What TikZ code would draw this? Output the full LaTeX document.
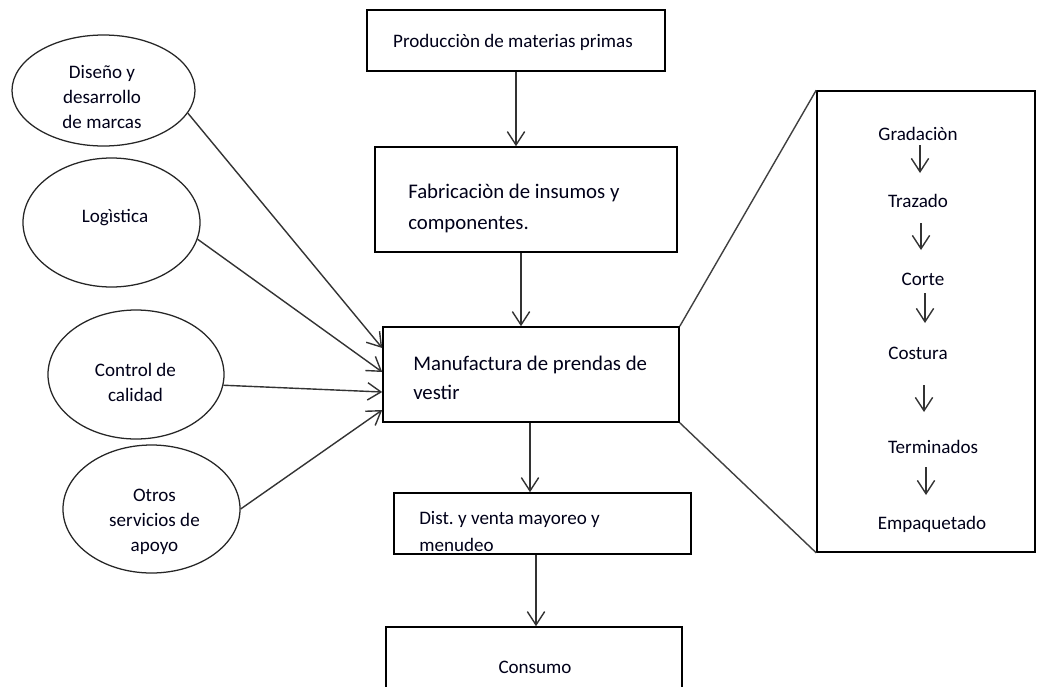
\documentclass[tikz,border=0pt]{standalone}
\usepackage{fontspec}
\setmainfont{Carlito}
\usetikzlibrary{arrows.meta,shapes.geometric,calc}
\frenchspacing
\begin{document}
\begin{tikzpicture}[x=0.75pt,y=-0.75pt,
  box/.style={draw=black,line width=1.2pt,inner sep=0pt},
  oval/.style={draw=black!85,line width=0.95pt,ellipse,inner sep=0pt},
  txt/.style={inner sep=0pt,align=center,text=black!90!blue,font=\fontsize{14.3}{18.75}\selectfont},
  ltxt/.style={inner sep=0pt,align=left,anchor=west,text=black!90!blue},
  arr/.style={draw=black!80,line width=1.05pt,-{Straight Barb[length=10pt,width=13pt,line width=1.05pt]}},
  link/.style={draw=black!75,line width=1.05pt}]
\useasboundingbox (0,0) rectangle (1046,686);
\fill[white] (0,0) rectangle (1046,686);

% main chain boxes
\node[box,minimum width=223.5pt,minimum height=45.75pt] (prod) at (516,40.5) {};
\node[txt] (prodt) at (513,42) {Producciòn de materias primas};
\node[box,minimum width=226.5pt,minimum height=78.75pt] (fab) at (526,199.5) {};
\node[ltxt,font=\fontsize{15.6}{23.25}\selectfont] (fabt) at (408,208) {Fabricaciòn de insumos y\\componentes.};
\node[box,minimum width=222pt,minimum height=71.25pt] (manu) at (531,374.5) {};
\node[ltxt,font=\fontsize{15.6}{21.75}\selectfont] (manut) at (413,378) {Manufactura de prendas de\\vestir};
\node[box,minimum width=222.75pt,minimum height=45.75pt] (dist) at (542.5,523.5) {};
\node[ltxt,font=\fontsize{14.3}{20.25}\selectfont] (distt) at (419,532) {Dist. y venta mayoreo y\\menudeo};
\node[box,minimum width=222pt,minimum height=69.75pt] (cons) at (534,673.5) {};
\node[txt] (const) at (535,667) {Consumo};

% process box
\node[box,minimum width=163.5pt,minimum height=345.75pt] (proc) at (926,321.5) {};
\node[txt] (grad) at (918,134) {Gradaciòn};
\node[txt] (traz) at (918,201) {Trazado};
\node[txt] (cort) at (923,279) {Corte};
\node[txt] (cost) at (918,353) {Costura};
\node[txt] (term) at (933,447) {Terminados};
\node[txt] (emp) at (932,524) {Empaquetado};

% ellipses
\node[oval,minimum width=137.25pt,minimum height=83.25pt] (dis) at (103.5,90.5) {};
\node[txt] (dist2) at (102,97) {Diseño y\\desarrollo\\de marcas};
\node[oval,minimum width=132.75pt,minimum height=96.75pt] (log) at (111.5,222.5) {};
\node[txt] (logt) at (115,218) {Logìstica};
\node[oval,minimum width=132pt,minimum height=96.75pt] (ctl) at (136,374.5) {};
\node[txt] (ctlt) at (135.5,382.5) {Control de\\calidad};
\node[oval,minimum width=132.75pt,minimum height=96pt] (otr) at (151.5,509) {};
\node[txt] (otrt) at (154.5,522) {Otros\\servicios de\\apoyo};

% main arrows
\draw[arr] (prod.south) -- (prod.south |- fab.north);
\draw[arr] (fab.south -| 521,0) -- (manu.north -| 521,0);
\draw[arr] (manu.south -| 530,0) -- (dist.north -| 530,0);
\draw[arr] (dist.south -| 536,0) -- (cons.north -| 536,0);

% ellipse arrows
\draw[arr] (dis.-15) -- (manu.west |- 0,348);
\draw[arr] (log.-11) -- (manu.west |- 0,372);
\draw[arr] (ctl.-7) -- (manu.west |- 0,392);
\draw[arr] (otr.east) -- (manu.west |- 0,410);

% zoom lines
\draw[link] (manu.north east) -- (proc.north west);
\draw[link] (manu.south east) -- (proc.south west);

% process arrows
\draw[arr] ($(grad.center -| 920,0)+(0,11)$) -- ($(traz.center -| 920,0)+(0,-28)$);
\draw[arr] ($(traz.center -| 921,0)+(0,22)$) -- ($(cort.center -| 921,0)+(0,-29)$);
\draw[arr] ($(cort.center -| 925,0)+(0,14)$) -- ($(cost.center -| 925,0)+(0,-30)$);
\draw[arr] ($(cost.center -| 924,0)+(0,32)$) -- ($(term.center -| 924,0)+(0,-35)$);
\draw[arr] ($(term.center -| 926,0)+(0,20)$) -- ($(emp.center -| 926,0)+(0,-29)$);
\end{tikzpicture}
\end{document}
